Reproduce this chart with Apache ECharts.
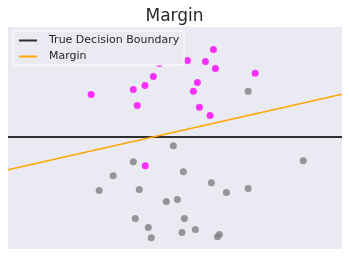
<!DOCTYPE html>
<html><head><meta charset="utf-8">
<script src="https://cdn.jsdelivr.net/npm/echarts@6/dist/echarts.min.js"></script>
<style>html,body{margin:0;padding:0;background:#fff}#c{width:349px;height:256px}</style>
</head><body><div id="c"></div>
<script>
const magentaPts = [
  [6.15,2.62],[5.37,2.29],[5.91,2.26],[4.53,2.20],[6.21,2.05],[7.40,1.91],
  [4.35,1.81],[5.67,1.63],[4.10,1.54],[3.75,1.42],[5.55,1.37],[2.49,1.27],
  [3.87,0.94],[5.73,0.89],[6.05,0.64],[4.11,-0.86]
];
const grayPts = [
  [7.19,1.37],[4.95,-0.26],[3.75,-0.74],[8.84,-0.71],[5.25,-1.04],[3.15,-1.16],
  [6.09,-1.37],[2.73,-1.60],[3.93,-1.57],[6.54,-1.66],[7.19,-1.54],[4.74,-1.93],
  [5.07,-1.87],[3.81,-2.44],[5.28,-2.44],[4.20,-2.71],[5.61,-2.77],[5.21,-2.86],
  [4.29,-3.01],[6.33,-2.92],[6.27,-2.98]
];
const trueBoundary = [[0,0],[10,0]];
const marginLine = [[0,-0.98],[10,1.28]];
const legendNames = ['True Decision Boundary','Margin'];
const titleText = 'Margin';

const chart = echarts.init(document.getElementById('c'), null, {renderer:'canvas'});
chart.setOption({
  animation:false,
  backgroundColor:'#ffffff',
  title:{text:titleText,left:'center',top:3,textStyle:{fontFamily:'DejaVu Sans',fontSize:17,fontWeight:'normal',color:'#262626'}},
  legend:{
    data:legendNames, orient:'vertical', left:13, top:31,
    backgroundColor:'#EAEAF2', borderColor:'#ffffff', borderWidth:1, borderRadius:2,
    padding:[3,5,2,6], itemWidth:18, itemHeight:2, itemGap:3, icon:'rect',
    textStyle:{fontFamily:'DejaVu Sans',fontSize:11,color:'#262626',padding:[0,0,0,7],lineHeight:13}
  },
  grid:{left:8,right:7,top:27,bottom:7,show:true,backgroundColor:'#EAEAF2',borderWidth:0},
  xAxis:{type:'value',min:0,max:10,show:false,splitLine:{show:false}},
  yAxis:{type:'value',min:-3.35,max:3.29,show:false,splitLine:{show:false}},
  series:[
    {name:legendNames[0],type:'line',data:trueBoundary,symbol:'none',lineStyle:{color:'#2f2f2f',width:2},itemStyle:{color:'#2f2f2f'},z:2},
    {name:legendNames[1],type:'line',data:marginLine,symbol:'none',lineStyle:{color:'#FFA500',width:1.5},itemStyle:{color:'#FFA500'},z:2},
    {name:'pos',type:'scatter',data:magentaPts,symbolSize:7,itemStyle:{color:'#FF00FF'},z:3},
    {name:'neg',type:'scatter',data:grayPts,symbolSize:7,itemStyle:{color:'#808080'},z:3}
  ]
});
</script></body></html>
